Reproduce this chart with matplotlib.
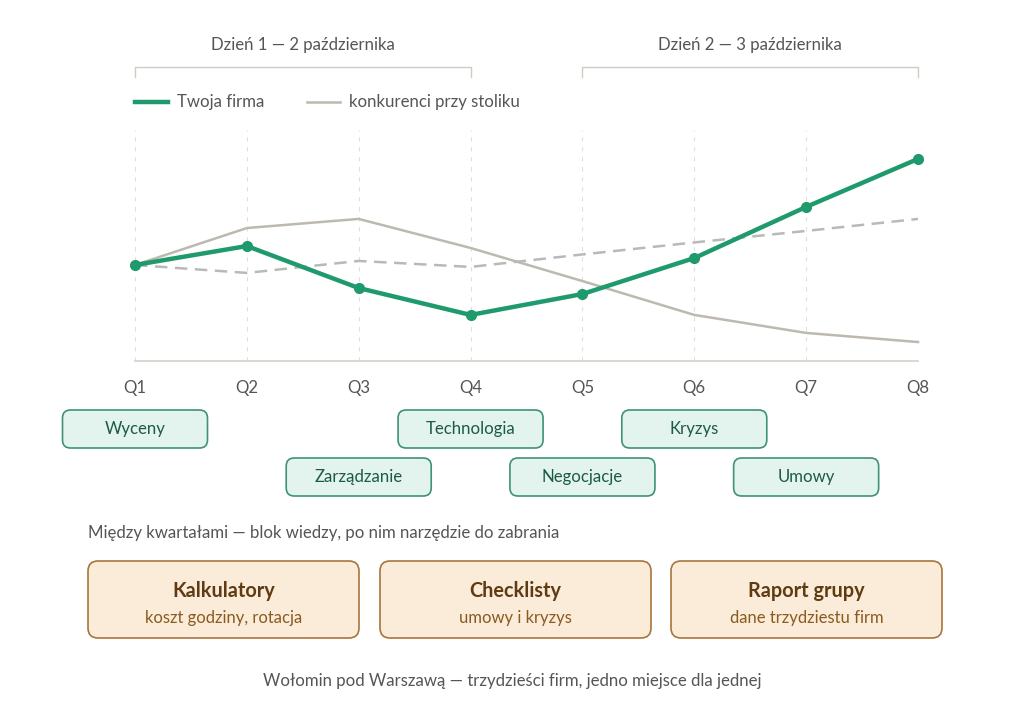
import matplotlib
matplotlib.use("Agg")
import matplotlib.pyplot as plt
from matplotlib.patches import FancyBboxPatch
from matplotlib.lines import Line2D

plt.rcParams['font.family'] = ['Lato', 'DejaVu Sans']

# ---- data ----
quarters = ["Q1", "Q2", "Q3", "Q4", "Q5", "Q6", "Q7", "Q8"]
twoja_firma = [100, 107.9, 90.4, 79.2, 87.9, 102.9, 124.2, 144.2]
konkurenci = [100, 115.4, 119.2, 107.1, 93.3, 79.2, 71.7, 67.9]
srednia = [100, 96.7, 101.7, 99.2, 104.4, 109.4, 114.2, 119.2]
days = ["Dzień 1 — 2 października", "Dzień 2 — 3 października"]
day_spans = [(0, 3), (4, 7)]
topics = ["Wyceny", "Zarządzanie", "Technologia", "Negocjacje", "Kryzys", "Umowy"]
topic_pos = [0, 2, 3, 4, 5, 6]
topic_row = [0, 1, 0, 1, 0, 1]
tools = ["Kalkulatory", "Checklisty", "Raport grupy"]
tool_desc = ["koszt godziny, rotacja", "umowy i kryzys", "dane trzydziestu firm"]
note = "Między kwartałami — blok wiedzy, po nim narzędzie do zabrania"
footer = "Wołomin pod Warszawą — trzydzieści firm, jedno miejsce dla jednej"

GREEN = "#1e9a6d"
GRAY = "#bdb9b0"
DGRAY = "#b9b9b9"
TXT = "#555555"
FS = 12.1

W, H = 1024, 723
fig = plt.figure(figsize=(W / 100, H / 100), dpi=100)
fig.patch.set_facecolor("white")

def fx(px):
    return px / W

def fy(py):
    return 1 - py / H

# main chart axes
x0, x1, ytop, ybot = 135, 918, 130, 361
ax = fig.add_axes([fx(x0), fy(ybot), fx(x1) - fx(x0), fy(ytop) - fy(ybot)])
ax.set_xlim(0, 7)
ax.set_ylim(60, 156.25)
for s in ax.spines.values():
    s.set_visible(False)
ax.set_facecolor("none")
xs = list(range(len(quarters)))
for x in xs:
    ax.axvline(x, color="#e0e0e0", lw=0.8, ls=(0, (4, 5)), zorder=0)
ax.axhline(60, color="#d4d1ca", lw=1.2, zorder=1, clip_on=False)
ax.plot(xs, konkurenci, color=GRAY, lw=1.8, zorder=2, clip_on=False)
ax.plot(xs, srednia, color=DGRAY, lw=1.8, ls=(0, (5, 3)), zorder=2, clip_on=False)
ax.plot(xs, twoja_firma, color=GREEN, lw=3.2, marker="o", ms=7, zorder=3, clip_on=False)
ax.set_xticks(xs)
ax.set_xticklabels(quarters, fontsize=FS, color=TXT)
ax.tick_params(axis="x", length=0, pad=14)
ax.set_yticks([])

# overlay axes in pixel coords
ov = fig.add_axes([0, 0, 1, 1])
ov.set_xlim(0, W)
ov.set_ylim(H, 0)
ov.axis("off")
ov.set_facecolor("none")

def qx(i):
    return x0 + (x1 - x0) * i / 7

# day brackets
for label, (a, b) in zip(days, day_spans):
    xa, xb = qx(a), qx(b)
    ov.plot([xa, xa, xb, xb], [77, 67, 67, 77], color="#cfccc4", lw=1.0)
    ov.text((xa + xb) / 2, 45, label, ha="center", va="center", fontsize=FS, color=TXT)

# legend
ov.add_line(Line2D([135, 168], [102, 102], color=GREEN, lw=3.2))
ov.text(177, 102, "Twoja firma", ha="left", va="center", fontsize=FS, color=TXT)
ov.add_line(Line2D([307, 340], [102, 102], color=GRAY, lw=1.8))
ov.text(349, 102, "konkurenci przy stoliku", ha="left", va="center", fontsize=FS, color=TXT)

# topic boxes
bw, bh = 145, 38
for name, p, r in zip(topics, topic_pos, topic_row):
    cx = qx(p)
    cy = 429 + 48 * r
    box = FancyBboxPatch((cx - bw / 2, cy - bh / 2), bw, bh,
                         boxstyle="round,pad=0,rounding_size=8",
                         fc="#e2f4ed", ec="#3f9275", lw=1.2)
    ov.add_patch(box)
    ov.text(cx, cy, name, ha="center", va="center", fontsize=FS, color="#1d5a46")

ov.text(88, 533, note, ha="left", va="center", fontsize=FS, color=TXT)

# tool boxes
tl = [88, 380, 671]
tw, th = 271, 77
for left, t, d in zip(tl, tools, tool_desc):
    box = FancyBboxPatch((left, 561), tw, th,
                         boxstyle="round,pad=0,rounding_size=10",
                         fc="#fbecd9", ec="#a8763c", lw=1.2)
    ov.add_patch(box)
    ov.text(left + tw / 2, 591, t, ha="center", va="center", fontsize=14.3,
            fontweight="bold", color="#5e3b12")
    ov.text(left + tw / 2, 618, d, ha="center", va="center", fontsize=12, color="#8a5a20")

ov.text(512, 681, footer, ha="center", va="center", fontsize=FS, color=TXT)

fig.savefig("out.png", dpi=100, facecolor="white")
